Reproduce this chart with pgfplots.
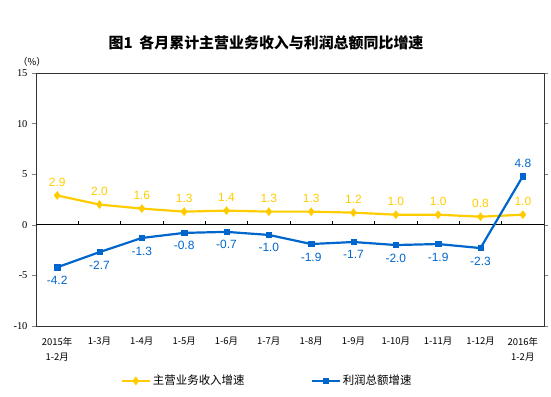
\documentclass[border=0pt]{standalone}
\usepackage{fontspec}
\setmainfont{Liberation Serif}
\newfontfamily\arial{Liberation Sans}
\newfontfamily\cjk{Noto Sans CJK SC}
\usepackage{pgfplots}
\usepackage{pgfplotstable}
\pgfplotsset{compat=1.18}
\definecolor{ylw}{RGB}{255,204,0}
\definecolor{blu}{RGB}{0,102,204}
\pgfplotstableread{
x y
0 2.9
1 2.0
2 1.6
3 1.3
4 1.4
5 1.3
6 1.3
7 1.2
8 1.0
9 1.0
10 0.8
11 1.0
}\revenue
\pgfplotstableread{
x y
0 -4.2
1 -2.7
2 -1.3
3 -0.8
4 -0.7
5 -1.0
6 -1.9
7 -1.7
8 -2.0
9 -1.9
10 -2.3
11 4.8
}\profit
\pgfplotsset{lbl/.style={nodes near coords={\pgfmathprintnumber[fixed,precision=1,zerofill]{\pgfplotspointmeta}},
  point meta=y, every node near coord/.append style={font=\arial\fontsize{12}{12}\selectfont, inner xsep=0pt, inner ysep=8.5bp}}}
\begin{document}
\begin{tikzpicture}
\path[use as bounding box] (-36bp,-71bp) rectangle (515bp,326bp);
\begin{axis}[
  at={(0,0)}, anchor=south west,
  scale only axis, width=508bp, height=253bp,
  xmin=-0.5, xmax=11.5, ymin=-10, ymax=15,
  ytick={-10,-5,0,5,10,15},
  yticklabel style={font=\fontsize{10.5}{10.5}\selectfont, xshift=-1bp},
  /pgf/number format/assume math mode=true,
  tick align=outside, major tick length=4bp,
  xtick={0,...,11}, xtick style={draw=none},
  xticklabels={{2015年\\1-2月},1-3月,1-4月,1-5月,1-6月,1-7月,1-8月,1-9月,1-10月,1-11月,1-12月,{2016年\\1-2月}},
  xticklabel style={font=\cjk\fontsize{9.5}{15}\selectfont, align=center, yshift=-4bp},
  axis line style={line width=0.8bp, black!80},
  legend style={at={(0.455,-0.217)}, anchor=center, draw=none, fill=none,
    font=\cjk\fontsize{11.5}{12}\selectfont, legend columns=2,
    /tikz/every even column/.append style={column sep=64bp}},
  legend image code/.code={\draw[#1] (0bp,0bp) -- (28bp,0bp); \draw[#1, mark repeat=2, mark phase=2] plot coordinates {(0bp,0bp) (14bp,0bp) (28bp,0bp)};},
  clip=false,
]
\draw[line width=0.8bp, black] (axis cs:-0.5,0) -- (axis cs:11.5,0);
\foreach \t in {0.5,1.5,2.5,3.5,4.5,5.5,6.5,7.5,8.5,9.5,10.5} {
  \edef\tmp{\noexpand\draw[line width=0.8bp, black] (axis cs:\t,0) -- ([yshift=4bp]axis cs:\t,0);}\tmp
}
\addplot[color=ylw, line width=2.2bp, mark=diamond*, mark size=4bp, mark options={fill=ylw, line width=0.5bp}] table[x=x, y=y] {\revenue};
\addlegendentry{主营业务收入增速}
\addplot[color=blu, line width=2.2bp, mark=square*, mark size=2.6bp, mark options={fill=blu, line width=0.5bp}] table[x=x, y=y] {\profit};
\addlegendentry{利润总额增速}
% data labels
\addplot[forget plot, draw=none, mark=none, lbl, every node near coord/.append style={anchor=south, text=ylw}] table[x=x, y=y] {\revenue};
\addplot[forget plot, draw=none, mark=none, lbl, every node near coord/.append style={anchor=north, text=blu}] table[x=x, y=y, skip coords between index={11}{12}] {\profit};
\addplot[forget plot, draw=none, mark=none, lbl, every node near coord/.append style={anchor=south, text=blu}] table[x=x, y=y, skip coords between index={0}{11}] {\profit};
\end{axis}
\node[font=\cjk\bfseries\fontsize{15}{15}\selectfont] at (230bp,283bp) {图1\ \ 各月累计主营业务收入与利润总额同比增速};
\node[font=\cjk\fontsize{9.5}{9.5}\selectfont] at (-4bp,264bp) {（\%）};
\end{tikzpicture}
\end{document}
